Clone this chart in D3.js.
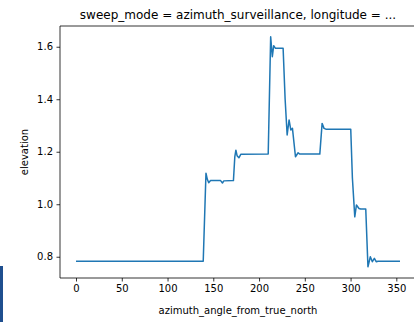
<!DOCTYPE html>
<html>
<head>
<meta charset="utf-8">
<script src="https://cdn.jsdelivr.net/npm/d3@7"></script>
<style>
  body { margin: 0; background: #fff; }
  svg { display: block; }
  text { font-family: "DejaVu Sans", sans-serif; fill: #000; }
</style>
</head>
<body>
<script>
var width = 414, height = 322;

// azimuth (deg) / elevation (deg)
var azimuth = [0, 139, 142, 143.5, 145, 147, 158, 160, 161.5, 172, 173.5, 174.7, 176, 178, 180,
  210, 212.7, 214.5, 216, 218, 226.3, 228.5, 230.7, 232.8, 234.7, 236.5, 239.8, 242.7, 244.5,
  266.4, 268.9, 271, 273, 300.2, 302, 304.6, 306.4, 309.2, 311, 316.6, 319, 321.6, 323.8,
  326, 328, 330, 354];
var elevation = [0.783, 0.783, 1.118, 1.095, 1.082, 1.090, 1.090, 1.081, 1.089, 1.090, 1.180, 1.206, 1.185, 1.177, 1.190,
  1.191, 1.638, 1.562, 1.604, 1.594, 1.594, 1.400, 1.264, 1.321, 1.283, 1.289, 1.181, 1.196, 1.191,
  1.191, 1.308, 1.289, 1.286, 1.286, 1.100, 0.952, 0.997, 0.984, 0.982, 0.982, 0.762, 0.800, 0.781,
  0.794, 0.781, 0.783, 0.783];

var xTicks = [0, 50, 100, 150, 200, 250, 300, 350];
var yTicks = [0.8, 1.0, 1.2, 1.4, 1.6];

var title = 'sweep_mode = azimuth_surveillance, longitude = ...';
var xLabel = 'azimuth_angle_from_true_north';
var yLabel = 'elevation';

var margin = {left: 60, top: 26, right: 416, bottom: 278};

var svg = d3.select('body').append('svg')
  .attr('width', width)
  .attr('height', height);

var x = d3.scaleLinear()
  .domain([-17.5, 371.5])
  .range([margin.left, margin.right]);

var y = d3.scaleLinear()
  .domain([0.719, 1.679])
  .range([margin.bottom, margin.top]);

// notebook cell marker on the left edge
svg.append('rect')
  .attr('x', 0).attr('y', 266)
  .attr('width', 3).attr('height', 56)
  .attr('fill', '#1f4f8f');

var data = azimuth.map(function(a, i) { return [a, elevation[i]]; });

var line = d3.line()
  .x(function(d) { return x(d[0]); })
  .y(function(d) { return y(d[1]); });

svg.append('path')
  .datum(data)
  .attr('d', line)
  .attr('fill', 'none')
  .attr('stroke', '#1f77b4')
  .attr('stroke-width', 1.5)
  .attr('stroke-linejoin', 'round');

var xAxis = svg.append('g')
  .attr('transform', 'translate(0,' + margin.bottom + ')')
  .call(d3.axisBottom(x).tickValues(xTicks).tickSize(3.5).tickPadding(3.5).tickFormat(d3.format('d')));

var yAxis = svg.append('g')
  .attr('transform', 'translate(' + margin.left + ',0)')
  .call(d3.axisLeft(y).tickValues(yTicks).tickSize(3.5).tickPadding(3.5).tickFormat(d3.format('.1f')));

[xAxis, yAxis].forEach(function(g) {
  g.select('.domain').remove();
  g.selectAll('line').attr('stroke', '#000').attr('stroke-width', 0.8);
  g.selectAll('text').style('font-size', '10px').style('font-family', '"DejaVu Sans", sans-serif').attr('fill', '#222');
});

// spines (right one falls outside the crop)
svg.append('path')
  .attr('d', 'M' + margin.right + ',' + margin.top + 'H' + margin.left + 'V' + margin.bottom + 'H' + margin.right)
  .attr('fill', 'none')
  .attr('stroke', '#000')
  .attr('stroke-width', 0.8);

svg.append('text')
  .attr('x', (margin.left + margin.right) / 2)
  .attr('y', 19)
  .attr('text-anchor', 'middle')
  .style('font-size', '12px')
  .attr('fill', '#222')
  .text(title);

svg.append('text')
  .attr('x', (margin.left + margin.right) / 2)
  .attr('y', 314)
  .attr('text-anchor', 'middle')
  .style('font-size', '10px')
  .attr('fill', '#222')
  .text(xLabel);

svg.append('text')
  .attr('transform', 'translate(28,' + (margin.top + margin.bottom) / 2 + ') rotate(-90)')
  .attr('text-anchor', 'middle')
  .style('font-size', '10px')
  .attr('fill', '#222')
  .text(yLabel);
</script>
</body>
</html>
